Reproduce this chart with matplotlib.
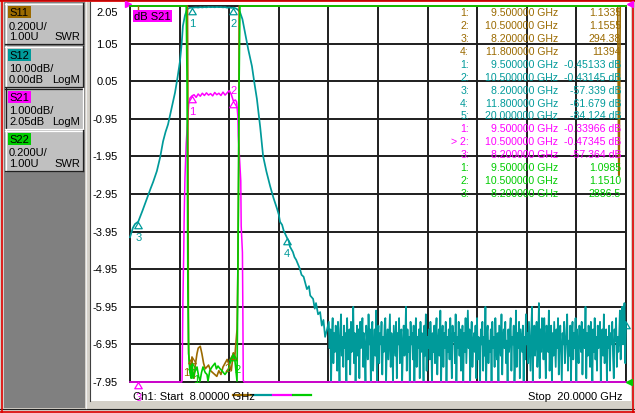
import numpy as np
import matplotlib
matplotlib.use('Agg')
import matplotlib.pyplot as plt
from matplotlib.patches import Rectangle
from matplotlib.lines import Line2D
from matplotlib.path import Path
from matplotlib.markers import MarkerStyle
import matplotlib.transforms as mtransforms

plt.rcParams['font.family'] = ['Liberation Sans', 'DejaVu Sans']

# ------------------------------------------------------------------ data
f_start, f_stop = 8.0, 20.0
s21_top, s21_div = 2.05, 1.0        # dB S21 scale (graticule labels)
s12_ref, s12_div = 0.0, 10.0        # S12 LogM
swr_ref, swr_div = 1.0, 0.2         # S11 / S22 SWR

# S12 (teal) : filter response with skirt, then noise floor
s12_freq = [8.00, 8.07, 8.12, 8.20, 8.30, 8.40, 8.50, 8.56, 8.65, 8.73, 8.80, 8.86, 8.92,
            9.00, 9.09, 9.15, 9.21, 9.25, 9.28, 9.33, 9.38, 9.44, 9.50, 9.55, 9.60, 9.65,
            9.70, 9.75, 9.80, 9.85, 9.90, 9.95, 10.00, 10.05, 10.10, 10.15, 10.20, 10.25,
            10.30, 10.35, 10.40, 10.45, 10.50, 10.55, 10.60, 10.66, 10.72, 10.78, 10.86,
            10.95, 11.01, 11.07, 11.15, 11.22, 11.30, 11.39, 11.47, 11.56, 11.60, 11.63,
            11.68, 11.72, 11.80, 11.84, 11.87, 11.94, 11.98, 12.02, 12.11, 12.15, 12.20,
            12.28, 12.33, 12.36, 12.43, 12.47, 12.50, 12.55, 12.60, 12.64, 12.68, 12.72, 12.77]
s12_db = [-61.5, -59.0, -58.0, -57.339, -54.5, -51.5, -48.5, -46.8, -43.9, -40.2, -36.0, -33.5,
          -31.5, -27.5, -23.0, -19.0, -14.6, -10.0, -5.3, -2.5, -0.9, -0.5, -0.45133, -0.40,
          -0.35, -0.42, -0.30, -0.38, -0.28, -0.35, -0.25, -0.32, -0.27, -0.33, -0.26, -0.31,
          -0.28, -0.36, -0.30, -0.45, -0.38, -0.50, -0.43145, -0.6, -0.9, -1.6, -3.5, -6.9,
          -11.5, -16.0, -20.5, -24.7, -32.2, -39.9, -44.0, -47.9, -51.0, -54.0, -55.5, -57.4,
          -58.2, -59.8, -61.679, -62.5, -64.0, -65.4, -66.8, -67.5, -69.9, -71.5, -72.0,
          -75.3, -74.5, -77.0, -77.9, -80.5, -79.0, -82.0, -81.4, -85.0, -83.5, -88.0, -85.9]
s12_noise_db = [
    -84, -91, -86, -100, -88, -83, -95, -87, -92, -85,
    -89, -97, -84, -90, -104, -86, -82, -93, -88, -96,
    -85, -91, -87, -101, -83, -94, -89, -86, -98, -84,
    -92, -88, -80, -95, -87, -103, -90, -85, -93, -86,
    -99, -84, -91, -88, -83, -96, -87, -92, -105, -85,
    -89, -94, -82, -90, -86, -100, -88, -84, -97, -91,
    -86, -93, -81, -102, -89, -85, -95, -87, -90, -84,
    -98, -88, -92, -85, -83, -101, -90, -86, -94, -88,
    -82, -96, -87, -91, -104, -85, -89, -93, -84, -99,
    -87, -90, -83, -95, -88, -86, -102, -91, -85, -93,
    -89, -80, -97, -86, -92, -88, -100, -84, -90, -87,
    -94, -85, -103, -89, -83, -96, -88, -91, -86, -99,
    -84, -92, -87, -90, -106, -85, -93, -82, -97, -88,
    -91, -86, -94, -84, -89, -101, -87, -92, -85, -95,
    -88, -83, -98, -90, -86, -93, -81, -100, -89, -85,
    -96, -87, -91, -84, -104, -88, -92, -86, -94, -83,
    -90, -99, -85, -89, -87, -95, -82, -102, -88, -91,
    -84, -93, -86, -97, -90, -85, -100, -87, -92, -83,
    -95, -88, -81, -91, -86, -103, -89, -84, -96, -90,
    -87, -92, -85, -99, -83, -94, -88, -91, -105, -86,
    -90, -84, -97, -88, -93, -80, -101, -87, -85, -95,
    -89, -92, -86, -100, -84, -91, -88, -96, -83, -90,
    -94, -87, -102, -85, -89, -93, -82, -98, -88, -86,
    -91, -84, -95, -89, -104, -86, -92, -87, -83, -97,
    -88, -90, -85, -100, -93, -81, -96, -87, -91, -84,
    -99, -86, -89, -92, -85, -103, -88, -94, -82, -90,
    -87, -95, -84, -91, -97, -86, -80, -101, -89, -85,
    -93, -88, -84, -96, -90, -79, -99, -86, -92, -83,
    -86, -94, -83, -90, -99, -85, -88, -92, -81, -97,
    -89, -85, -101, -87, -93, -84, -90, -96, -86, -91,
    -83, -98, -88, -85, -92, -104, -87, -90, -84, -95,
    -91, -86, -82, -97, -89, -93, -85, -100, -88, -84,
    -94, -87, -91, -83, -103, -86, -90, -95, -85, -89,
    -92, -84, -98, -88, -86, -91, -80, -99, -87, -93,
    -85, -90, -96, -84, -89, -102, -86, -92, -83, -94,
    -88, -97, -85, -91, -87, -84, -100, -90, -86, -93,
    -82, -95, -89, -86, -105, -88, -91, -85, -97, -87,
    -90, -84, -93, -99, -86, -89, -83, -96, -88, -92,
    -88, -81, -94, -83, -80, -90, -82, -79, -95, -84.124]
s12_noise_freq = np.linspace(12.81, 20.0, len(s12_noise_db))   # sweep points

# S21 (magenta), dB
s21_freq = [8.0, 8.2, 8.6, 9.0, 9.2, 9.25, 9.26, 9.28, 9.30, 9.31, 9.33, 9.36, 9.40, 9.42,
            9.45, 9.50, 9.55, 9.60, 9.65, 9.70, 9.75, 9.80, 9.85, 9.90, 9.95, 10.00, 10.05,
            10.10, 10.15, 10.20, 10.25, 10.30, 10.35, 10.40, 10.45, 10.50, 10.55, 10.58,
            10.61, 10.62, 10.64, 10.68, 10.69, 10.72, 10.73, 10.74, 10.76, 11.0, 11.8, 12.5, 20.0]
s21_db = [-61.5, -57.364, -45.0, -27.5, -15.0, -9.5, -7.9, -5.8, -4.5, -3.6, -2.5, -1.6, -0.9,
          -0.55, -0.40, -0.33966, -0.31, -0.38, -0.29, -0.35, -0.27, -0.33, -0.26, -0.32, -0.28,
          -0.34, -0.25, -0.31, -0.27, -0.33, -0.24, -0.32, -0.26, -0.20, -0.30, -0.47345, -0.45,
          -0.5, -0.9, -1.4, -1.8, -2.6, -3.8, -4.5, -6.0, -7.9, -9.5, -33.0, -61.7, -80.0, -85.0]

# S11 (brown), SWR
s11_freq = [8.0, 9.0, 9.38, 9.39, 9.40, 9.405, 9.41, 9.415, 9.42, 9.44, 9.47, 9.50, 9.52, 9.55,
            9.58, 9.62, 9.65, 9.70, 9.74, 9.78, 9.82, 9.86, 9.90, 9.95, 10.00, 10.05, 10.10,
            10.15, 10.20, 10.25, 10.30, 10.35, 10.40, 10.45, 10.50, 10.53, 10.56, 10.59, 10.61,
            10.63, 10.64, 10.66, 11.8, 19.80, 19.825, 19.835, 19.86, 20.0]
s11_swr = [310, 260, 4.5, 3.0, 2.6, 2.0, 1.55, 1.22, 1.15, 1.10, 1.06, 1.1335, 1.04, 1.02, 1.09,
           1.15, 1.18, 1.19, 1.15, 1.10, 1.07, 1.08, 1.09, 1.06, 1.05, 1.04, 1.03, 1.06, 1.04,
           1.08, 1.10, 1.12, 1.09, 1.06, 1.1555, 1.12, 1.20, 1.28, 1.60, 2.15, 3.5, 20, 11394,
           250, 2.1, 2.1, 250, 300]

# S22 (green), SWR
s22_freq = [8.0, 9.0, 9.36, 9.38, 9.40, 9.42, 9.45, 9.48, 9.50, 9.524, 9.56, 9.621, 9.66, 9.694,
            9.73, 9.766, 9.82, 9.863, 9.887, 9.93, 9.984, 10.02, 10.056, 10.09, 10.129, 10.18,
            10.226, 10.26, 10.298, 10.33, 10.371, 10.42, 10.468, 10.50, 10.540, 10.589, 10.60,
            10.62, 10.64, 10.66, 11.0, 20.0]
s22_swr = [2886.5, 500, 3.5, 2.6, 1.5, 1.15, 1.05, 1.02, 1.0985, 1.02, 1.05, 1.08, 1.03, 1.005,
           1.05, 1.08, 1.05, 1.04, 1.005, 1.06, 1.08, 1.09, 1.10, 1.07, 1.085, 1.07, 1.06, 1.05,
           1.04, 1.05, 1.06, 1.10, 1.13, 1.151, 1.11, 1.005, 1.3, 1.9, 2.6, 3.5, 800, 900]

# markers
s11_mk_f = [9.5, 10.5, 8.2, 11.8]
s11_mk_v = [1.1335, 1.1555, 294.38, 11394]
s12_mk_f = [9.5, 10.5, 8.2, 11.8, 20.0]
s12_mk_v = [-0.45133, -0.43145, -57.339, -61.679, -84.124]
s21_mk_f = [9.5, 10.5, 8.2]
s21_mk_v = [-0.33966, -0.47345, -57.364]
s22_mk_f = [9.5, 10.5, 8.2]
s22_mk_v = [1.0985, 1.1510, 2886.5]

# channel buttons
ch_names = ['S11', 'S12', 'S21', 'S22']
ch_scale = ['0.200U/', '10.00dB/', '1.000dB/', '0.200U/']
ch_ref = ['1.00U', '0.00dB', '2.05dB', '1.00U']
ch_fmt = ['SWR', 'LogM', 'LogM', 'SWR']

# ------------------------------------------------------------------ style
BROWN, TEAL, MAG, GREEN = '#9b6a00', '#009a9a', '#ff00ff', '#00cc00'
COLS = [BROWN, TEAL, MAG, GREEN]
W, H = 635, 414
FS = 8.0

fig = plt.figure(figsize=(W / 100, H / 100), dpi=100)
fig.patch.set_facecolor('#d4d0c8')


def rect(x0, y0, x1, y1, **kw):
    fig.patches.append(Rectangle((x0 / W, 1 - y1 / H), (x1 - x0) / W, (y1 - y0) / H,
                                 transform=fig.transFigure, zorder=-10, **kw))


def hline(x0, x1, y, **kw):
    fig.lines.append(Line2D([x0 / W, x1 / W], [1 - y / H, 1 - y / H], transform=fig.transFigure,
                            zorder=-5, **kw))


def vline(x, y0, y1, **kw):
    fig.lines.append(Line2D([x / W, x / W], [1 - y0 / H, 1 - y1 / H], transform=fig.transFigure,
                            zorder=-5, **kw))


def ftext(x, y, s, **kw):
    fig.text(x / W, 1 - y / H, s, **kw)


# outer window frame
hline(0, W, 0.5, color='#202020', lw=0.8)
hline(0, W, 2, color='#e00000', lw=1.2)
hline(0, W, 410, color='#202020', lw=0.8)
hline(0, W, 412.5, color='#e00000', lw=1.2)
vline(1.5, 0, H, color='#e00000', lw=1.2)
vline(633, 0, H, color='#e00000', lw=1.2)
# left panel
rect(4, 3, 85, 409, facecolor='#808080', edgecolor='none')
vline(86, 3, 409, color='#f0f0f0', lw=0.8)
vline(90, 3, 402, color='#404040', lw=0.8)
# white display area
rect(91, 3, 631, 402, facecolor='white', edgecolor='none')

# channel buttons
tops = [4, 47, 89, 131]
for i in range(4):
    t = tops[i]
    rect(5, t, 83, t + 41, facecolor='#c0c0c0', edgecolor='none')
    dark, light = ('#202020', 'white') if i == 2 else ('white', '#202020')
    hline(5, 83, t + 0.5, color=dark, lw=0.9)
    vline(5.5, t, t + 41, color=dark, lw=0.9)
    hline(5, 83, t + 40.5, color=light, lw=0.9)
    vline(82.5, t, t + 41, color=light, lw=0.9)
    rect(8, t + 3, 31, t + 15, facecolor=COLS[i], edgecolor='none')
    ftext(9, t + 9.5, ch_names[i], fontsize=FS, va='center', ha='left', color='black')
    ftext(9, t + 22.5, ch_scale[i], fontsize=FS, va='center', ha='left', color='black')
    ftext(9, t + 33, ch_ref[i], fontsize=FS, va='center', ha='left', color='black')
    ftext(80, t + 33, ch_fmt[i], fontsize=FS, va='center', ha='right', color='black')

# ------------------------------------------------------------------ axes
AX = [130 / W, 1 - 383 / H, 496 / W, 376 / H]
gax = fig.add_axes(AX)
gax.set_zorder(1)
gax.set_xlim(f_start, f_stop)
gax.set_ylim(s21_top - 10 * s21_div, s21_top)
gax.set_facecolor('white')
gax.set_xticks(np.linspace(f_start, f_stop, 11))
gax.set_yticks(np.linspace(s21_top - 10 * s21_div, s21_top, 11))
gax.tick_params(length=0, labelbottom=False, labelleft=False)
gax.grid(True, color='#1e1e1e', lw=1.4)
for sp in gax.spines.values():
    sp.set_color('#1e1e1e')
    sp.set_linewidth(1.4)

# y labels (S21 scale)
bt = mtransforms.blended_transform_factory(gax.transAxes, gax.transData)
for i in range(11):
    v = s21_top - i * s21_div
    off = mtransforms.ScaledTranslation(0, -6 / 100 if i == 0 else 0, fig.dpi_scale_trans)
    gax.text(-12 / 496, v, f"{v:.2f}", transform=bt + off, ha='right', va='center',
             fontsize=FS, color='black', clip_on=False)


def overlay(ylo, yhi, z):
    a = fig.add_axes(AX, sharex=gax, label=f'ov{z}')
    a.set_ylim(ylo, yhi)
    a.patch.set_visible(False)
    a.axis('off')
    a.set_zorder(z)
    return a


ax12 = overlay(s12_ref - 10 * s12_div, s12_ref, 2)
ax21 = overlay(s21_top - 10 * s21_div, s21_top, 3)
axsw = overlay(swr_ref, swr_ref + 10 * swr_div, 4)

lo12, hi12 = ax12.get_ylim()
lo21, hi21 = ax21.get_ylim()
losw, hisw = axsw.get_ylim()

f12 = np.concatenate([s12_freq, s12_noise_freq])
v12 = np.concatenate([s12_db, s12_noise_db])
ax12.plot(f12, np.clip(v12, lo12, hi12), color=TEAL, lw=1.25, clip_on=False)
ax21.plot(s21_freq, np.clip(s21_db, lo21, hi21), color=MAG, lw=1.1, clip_on=False)
axsw.plot(s11_freq, np.clip(s11_swr, losw, hisw), color=BROWN, lw=1.2, clip_on=False)
axsw.plot(s22_freq, np.clip(s22_swr, losw, hisw), color=GREEN, lw=1.2, clip_on=False)

# marker triangles
tri = MarkerStyle(Path([(0, 0), (-0.6, -1), (0.6, -1), (0, 0)]))


def draw_markers(a, fs, vs, col, lo, hi, labels_above=(), skip=(), dx=0, nolabel=()):
    for k, (f, v) in enumerate(zip(fs, vs)):
        if k in skip:
            continue
        vv = min(max(v, lo), hi)
        a.plot([f], [vv], marker=tri, ms=9, mfc='none', mec=col, mew=0.9, clip_on=False, zorder=5)
        if k in nolabel:
            continue
        dy = 8 if k in labels_above else -11
        a.annotate(str(k + 1), (f, vv), xytext=(dx, dy), textcoords='offset points',
                   ha='center', va='center', fontsize=FS, color=col, annotation_clip=False)


draw_markers(ax12, s12_mk_f, s12_mk_v, TEAL, lo12, hi12, nolabel=(4,))
draw_markers(ax21, s21_mk_f, s21_mk_v, MAG, lo21, hi21, labels_above=(1,))
draw_markers(axsw, s11_mk_f, s11_mk_v, BROWN, losw, hisw, skip=(2, 3), dx=-4)
draw_markers(axsw, s22_mk_f, s22_mk_v, GREEN, losw, hisw, skip=(2,), dx=3)
# off-screen S11 marker 3 indicator at top
axsw.plot([s11_mk_f[2]] * 2, [hisw, hisw - 0.03], color=BROWN, lw=1.0, clip_on=False, zorder=6)

# reference arrows
ax21.plot([f_start], [s21_top], marker='>', ms=5, color=MAG, clip_on=False, transform=ax21.transData
          + mtransforms.ScaledTranslation(-2 / 100, 2 / 100, fig.dpi_scale_trans))
ax21.plot([f_stop], [s21_top], marker='<', ms=5, color=MAG, clip_on=False, transform=ax21.transData
          + mtransforms.ScaledTranslation(4 / 100, 2 / 100, fig.dpi_scale_trans))
axsw.plot([f_stop], [swr_ref], marker='<', ms=5, color=GREEN, clip_on=False, transform=axsw.transData
          + mtransforms.ScaledTranslation(3 / 100, 0, fig.dpi_scale_trans))

# dB S21 label box
ftext(134, 17, 'dB S21', fontsize=FS, ha='left', va='center', color='black', zorder=10,
      bbox=dict(boxstyle='square,pad=0.1', facecolor=MAG, edgecolor='none'))


# ------------------------------------------------------------------ marker readout
def fmt_val(v, unit):
    s = f"{v:#.5g}".rstrip('.')
    return s + (' dB' if unit else '')


rows = []
for k, (f, v) in enumerate(zip(s11_mk_f, s11_mk_v)):
    rows.append((f"{k + 1}:", f, fmt_val(v, False), BROWN))
for k, (f, v) in enumerate(zip(s12_mk_f, s12_mk_v)):
    rows.append((f"{k + 1}:", f, fmt_val(v, True), TEAL))
for k, (f, v) in enumerate(zip(s21_mk_f, s21_mk_v)):
    rows.append((("> " if k == 1 else "") + f"{k + 1}:", f, fmt_val(v, True), MAG))
for k, (f, v) in enumerate(zip(s22_mk_f, s22_mk_v)):
    rows.append((f"{k + 1}:", f, fmt_val(v, False), GREEN))

RFS = 7.6
for i, (idx, f, val, col) in enumerate(rows):
    y = 13.3 + 12.9 * i
    ftext(469, y, idx, fontsize=RFS, ha='right', va='center', color=col, zorder=10)
    ftext(558, y, f"{f:.6f} GHz", fontsize=RFS, ha='right', va='center', color=col, zorder=10)
    ftext(621, y, val, fontsize=RFS, ha='right', va='center', color=col, zorder=10)

# ------------------------------------------------------------------ footer
ftext(133, 397, f"Ch1: Start  {f_start:.5f} GHz", fontsize=FS, ha='left', va='center', color='black')
ftext(623, 397, f"Stop  {f_stop:.4f} GHz", fontsize=FS, ha='right', va='center', color='black')
for i, c in enumerate(COLS):
    hline(233 + 20 * i, 251 + 20 * i, 395.5, color=c, lw=1.6)

fig.savefig('out.png', dpi=100, facecolor=fig.get_facecolor())
